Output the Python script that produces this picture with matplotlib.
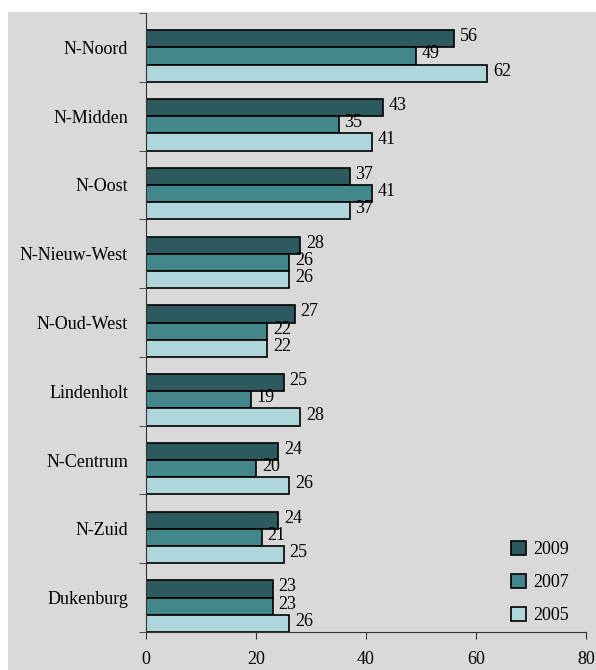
import matplotlib.pyplot as plt
from matplotlib.patches import Rectangle
import numpy as np

plt.rcParams['font.family'] = ['Liberation Serif', 'DejaVu Serif']

# data
districts = ['N-Noord', 'N-Midden', 'N-Oost', 'N-Nieuw-West', 'N-Oud-West',
             'Lindenholt', 'N-Centrum', 'N-Zuid', 'Dukenburg']
years = ['2009', '2007', '2005']
v2009 = [56, 43, 37, 28, 27, 25, 24, 24, 23]
v2007 = [49, 35, 41, 26, 22, 19, 20, 21, 23]
v2005 = [62, 41, 37, 26, 22, 28, 26, 25, 26]

colors = ['#2d5a5f', '#41878c', '#aed6db']
bg = '#d9d9d9'
fs = 13

fig = plt.figure(figsize=(5.96, 6.70), dpi=100, facecolor='white')
# grey panel behind the chart
fig.patches.append(Rectangle((8 / 596, 0), 1, 1 - 12 / 670, transform=fig.transFigure,
                             facecolor=bg, edgecolor='none', zorder=-10))
ax = fig.add_axes([146 / 596, 1 - 632 / 670, 440 / 596, 619 / 670])
ax.set_facecolor(bg)

y = np.arange(len(districts))
h = 0.25
# bars sit at the bottom of each group (inverted axis)
offsets = [-0.125, 0.125, 0.375]
for vals, off, col, lab in zip([v2009, v2007, v2005], offsets, colors, years):
    bars = ax.barh(y + off, vals, height=h, color=col, edgecolor='black',
                   linewidth=1.2, label=lab)
    for b, v in zip(bars, vals):
        ax.text(b.get_width() + 1.1, b.get_y() + b.get_height() / 2 - 0.03, str(v),
                va='center', ha='left', fontsize=fs)

ax.set_xlim(0, 80)
ax.set_ylim(len(districts) - 0.5, -0.5)
ax.set_xticks(np.arange(0, 81, 20))
ax.set_yticks(y)
ax.set_yticklabels(districts)
ax.set_yticks(np.arange(-0.5, len(districts)), minor=True)
ax.tick_params(axis='y', which='major', length=0, pad=13, labelsize=fs)
ax.tick_params(axis='y', which='minor', length=5, direction='out', color='#333333')
ax.tick_params(axis='x', length=5, direction='out', pad=9, labelsize=fs, color='#333333')
for s in ['top', 'right']:
    ax.spines[s].set_visible(False)
for s in ['left', 'bottom']:
    ax.spines[s].set_color('#333333')

ax.legend(loc='lower left', bbox_to_anchor=(502 / 596, 1 - 633 / 670),
          bbox_transform=fig.transFigure, frameon=False, handlelength=0.85,
          handleheight=0.85, handletextpad=0.4, labelspacing=0.85, fontsize=fs,
          borderpad=0)

fig.savefig('out.png', dpi=100, facecolor=fig.get_facecolor())
